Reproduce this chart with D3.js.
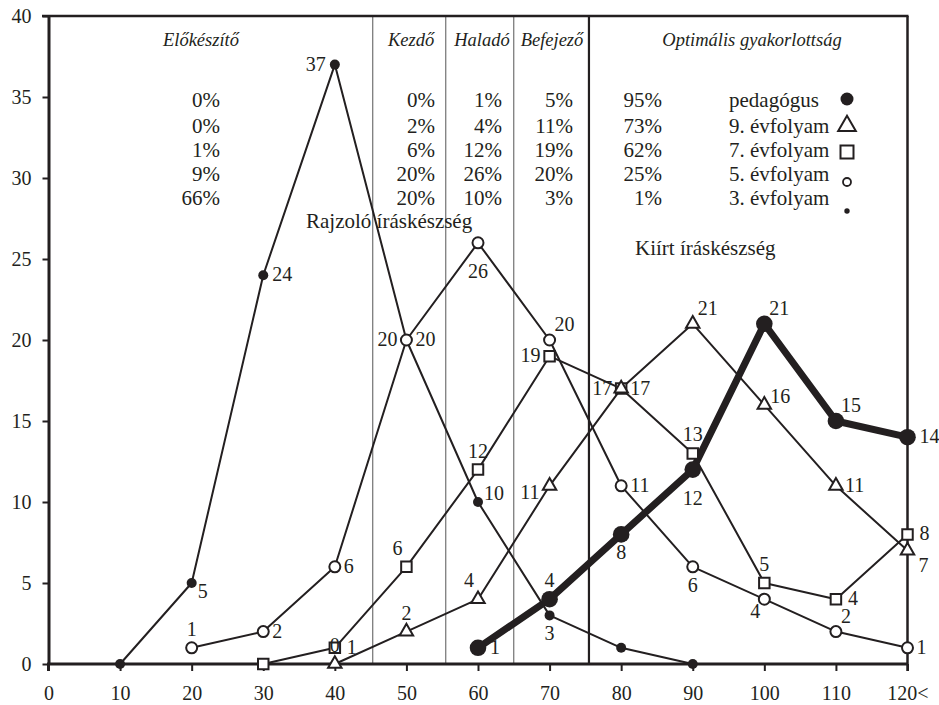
<!DOCTYPE html>
<html><head><meta charset="utf-8">
<script src="https://cdn.jsdelivr.net/npm/d3@7"></script>
<style>
body{margin:0;background:#fff}
text{font-family:"Liberation Serif","Times New Roman",serif;fill:#231f20}
</style></head>
<body><svg id="chart" width="939" height="705"></svg>
<script>
// ---------- data ----------
const xValues = [10,20,30,40,50,60,70,80,90,100,110,120];
const xTickValues = [0,10,20,30,40,50,60,70,80,90,100,110,120];
const xTickLabels = ["0","10","20","30","40","50","60","70","80","90","100","110","120<"];
const yTickValues = [0,5,10,15,20,25,30,35,40];

const grade3  = [0,5,24,37,20,10,3,1,0,null,null,null];
const grade5  = [null,1,2,6,20,26,20,11,6,4,2,1];
const grade7  = [null,null,0,1,6,12,19,17,13,5,4,8];
const grade9  = [null,null,null,0,2,4,11,17,21,16,11,7];
const teacher = [null,null,null,null,null,1,4,8,12,21,15,14];

const groupNames = ["pedagógus","9. évfolyam","7. évfolyam","5. évfolyam","3. évfolyam"];
const stageNames = ["Előkészítő","Kezdő","Haladó","Befejező","Optimális gyakorlottság"];
const stageBounds = [45.3,55.5,65,75.5];
const pctTeacher = [0,0,1,5,95];
const pctGrade9  = [0,2,4,11,73];
const pctGrade7  = [1,6,12,19,62];
const pctGrade5  = [9,20,26,20,25];
const pctGrade3  = [66,20,10,3,1];
const annotations = ["Rajzoló íráskészség","Kiírt íráskészség"];

// label placement codes (layout only)
const lab3 = [null,"br","r","l","l","ur","b",null,null,null,null,null];
const lab5 = [null,"a","r","r","r","bb","ar","r","b","bl","ar","r"];
const lab7 = [null,null,null,"R","al","a","l","l","a","a","R","R"];
const lab9 = [null,null,null,"a","a","al","lb","r","ar","ur","r","rb"];
const labT = [null,null,null,null,null,"R","a","b","bb","ar","ar","R"];

// ---------- layout ----------
const svg = d3.select("#chart");
const INK = "#231f20";
const x = d3.scaleLinear().domain([0,120]).range([48.5,907.5]);
const y = d3.scaleLinear().domain([0,40]).range([664,16]);

function txt(g, px, py, s, size, anchor, italic){
  return g.append("text").attr("x",px).attr("y",py).text(s)
    .attr("font-size",size).attr("text-anchor",anchor||"start")
    .attr("font-style",italic?"italic":null);
}

// stage dividers
stageBounds.forEach((b,i)=>{
  svg.append("line").attr("x1",x(b)).attr("x2",x(b)).attr("y1",y(40)).attr("y2",y(0))
    .attr("stroke", i===3?INK:"#555").attr("stroke-width", i===3?2.2:1);
});

// frame: top and right
svg.append("line").attr("x1",42).attr("x2",x(120)+1).attr("y1",y(40)).attr("y2",y(40))
  .attr("stroke",INK).attr("stroke-width",2.5);
svg.append("line").attr("x1",x(120)).attr("x2",x(120)).attr("y1",y(40)).attr("y2",y(0)+7)
  .attr("stroke",INK).attr("stroke-width",2.5);

// axes
const yAxis = svg.append("g").attr("transform",`translate(${x(0)},0)`)
  .call(d3.axisLeft(y).tickValues(yTickValues).tickSize(6).tickSizeOuter(0).tickPadding(11));
const xAxis = svg.append("g").attr("transform",`translate(0,${y(0)})`)
  .call(d3.axisBottom(x).tickValues(xTickValues).tickSize(7).tickSizeOuter(0).tickPadding(15)
    .tickFormat((d,i)=>xTickLabels[i]));
[yAxis,xAxis].forEach(a=>{
  a.select(".domain").attr("stroke",INK).attr("stroke-width",3);
  a.selectAll(".tick line").attr("stroke",INK).attr("stroke-width",2);
  a.selectAll(".tick text").attr("font-size",20).attr("font-family","Liberation Serif").attr("fill",INK);
});
yAxis.selectAll(".tick text").attr("dy","0.34em");
xAxis.select(".domain").attr("d",`M${x(0)-1.5},0H${x(120)}`);
yAxis.append("line").attr("x1",0).attr("x2",0).attr("y1",y(0)).attr("y2",y(0)+7)
  .attr("stroke",INK).attr("stroke-width",3);

// stage headers
const headerX = [201,411,482,552,752];
stageNames.forEach((s,i)=>txt(svg, headerX[i], 46, s, 18.5, "middle", true));

// percentage table
const pctRows = [pctTeacher,pctGrade9,pctGrade7,pctGrade5,pctGrade3];
const colRight = [220,435,502,573,662];
const rowBase = [107,133,157,181,205];
pctRows.forEach((row,r)=>{
  row.forEach((v,c)=>txt(svg, colRight[c], rowBase[r], v+"%", 21, "end"));
  txt(svg, 729, rowBase[r], groupNames[r], 21, "start");
});

// annotations
txt(svg, 306, 228, annotations[0], 21, "start");
txt(svg, 635, 255, annotations[1], 21, "start");

// series
const series = [
  {v:grade3, lab:lab3, w:2, mk:"dot"},
  {v:grade5, lab:lab5, w:2, mk:"ocircle"},
  {v:grade7, lab:lab7, w:2, mk:"square"},
  {v:grade9, lab:lab9, w:2, mk:"triangle"},
  {v:teacher, lab:labT, w:7, mk:"big"}
];
const markerDefs = {
  dot:      {type:d3.symbolCircle,   size:Math.PI*5*5,  fill:INK,    sw:0},
  ocircle:  {type:d3.symbolCircle,   size:Math.PI*5.5*5.5, fill:"#fff", sw:2},
  square:   {type:d3.symbolSquare,   size:110, fill:"#fff", sw:2},
  triangle: {type:d3.symbolTriangle, size:78,  fill:"#fff", sw:2},
  big:      {type:d3.symbolCircle,   size:Math.PI*8.3*8.3, fill:INK, sw:0}
};
const legendDefs = {
  big:      {type:d3.symbolCircle,   size:Math.PI*6.5*6.5, fill:INK, sw:0},
  triangle: {type:d3.symbolTriangle, size:135, fill:"#fff", sw:2},
  square:   {type:d3.symbolSquare,   size:169, fill:"#fff", sw:2},
  ocircle:  {type:d3.symbolCircle,   size:Math.PI*4*4, fill:"#fff", sw:1.8},
  dot:      {type:d3.symbolCircle,   size:Math.PI*2.7*2.7, fill:INK, sw:0}
};
const labelOff = {
  r:[9,6,"start"], R:[12,6,"start"], l:[-9,6,"end"], lb:[-10,13,"end"],
  a:[0,-12,"middle"], b:[0,25,"middle"], bb:[0,35,"middle"],
  ar:[5,-9,"start"], al:[-4,-12,"end"], br:[6,15,"start"], bl:[-4,19,"end"],
  ur:[6,-2,"start"], rb:[11,21,"start"]
};

const line = d3.line().defined(d=>d.v!==null).x(d=>x(d.x)).y(d=>y(d.v));
series.forEach(s=>{
  const pts = xValues.map((xv,i)=>({x:xv, v:s.v[i], lab:s.lab[i]}));
  s.pts = pts;
  svg.append("path").datum(pts).attr("d",line).attr("fill","none")
    .attr("stroke",INK).attr("stroke-width",s.w).attr("stroke-linejoin","round");
});
series.forEach(s=>{
  const m = markerDefs[s.mk];
  const sym = d3.symbol().type(m.type).size(m.size);
  svg.append("g").selectAll("path").data(s.pts.filter(d=>d.v!==null)).join("path")
    .attr("d",sym).attr("transform",d=>`translate(${x(d.x)},${y(d.v)})`)
    .attr("fill",m.fill).attr("stroke",m.sw?INK:"none").attr("stroke-width",m.sw);
});
series.forEach(s=>{
  s.pts.filter(d=>d.v!==null && d.lab).forEach(d=>{
    const o = labelOff[d.lab];
    txt(svg, x(d.x)+o[0], y(d.v)+o[1], String(d.v), 20, o[2]);
  });
});

// legend markers
const legendKeys = ["big","triangle","square","ocircle","dot"];
const legendY = [99,126,152,182,211];
legendKeys.forEach((k,i)=>{
  const m = legendDefs[k];
  svg.append("path").attr("d",d3.symbol().type(m.type).size(m.size)())
    .attr("transform",`translate(847,${legendY[i]})`)
    .attr("fill",m.fill).attr("stroke",m.sw?INK:"none").attr("stroke-width",m.sw);
});
</script></body></html>
